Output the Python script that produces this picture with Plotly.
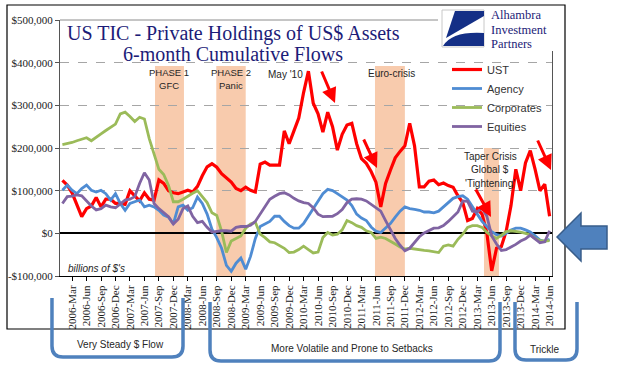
import plotly.graph_objects as go

# ---------------- data ----------------
MONTHS = ["Jan", "Feb", "Mar", "Apr", "May", "Jun", "Jul", "Aug", "Sep", "Oct", "Nov", "Dec"]
periods = [f"{y}-{m}" for y in range(2006, 2015) for m in MONTHS][:102]   # 2006-Jan .. 2014-Jun
tick_labels = periods[2::3]                                               # 2006-Mar, 2006-Jun, ...

y_tickvals = [-100, 0, 100, 200, 300, 400, 500]
y_ticktext = ["-$100,000", "$0", "$100,000", "$200,000", "$300,000", "$400,000", "$500,000"]

# values in $ thousands of millions (axis shows them as $xxx,000)
ust = [124, 113, 95, 66, 39, 58, 64, 84, 62, 80, 80, 70, 70, 68, 100, 88, 76, 95, 80, 78,
       125, 117, 100, 95, 93, 97, 101, 97, 110, 135, 156, 163, 155, 140, 130, 120, 105, 100, 108, 101,
       97, 162, 167, 160, 160, 160, 240, 210, 240, 270, 330, 380, 305, 280, 237, 284, 250, 195, 232, 254,
       258, 210, 175, 164, 145, 120, 62, 117, 148, 177, 192, 205, 258, 205, 109, 109, 122, 125, 114, 118,
       112, 108, 88, 72, 30, 35, 58, 45, 0, -88, -35, -31, 5, 65, 150, 100, 165, 194, 150, 100,
       115, 40]
agency = [101, 113, 101, 93, 105, 113, 101, 97, 101, 93, 78, 93, 70, 54, 70, 74, 78, 62, 66, 62,
          54, 43, 38, 22, 62, 66, 54, 60, 85, 70, 45, 10, -10, -35, -75, -89, -70, -58, -84, -54,
          -12, 16, 23, 28, 40, 40, 28, 18, 12, 12, 23, 40, 60, 75, 93, 103, 100, 93, 85, 78,
          65, 45, 36, 30, 15, 5, 2, 12, 23, 38, 52, 62, 58, 56, 54, 50, 50, 48, 52, 62,
          72, 82, 86, 88, 80, 64, 45, 28, 16, 4, -3, -6, 0, 8, 12, 12, 8, 3, -6, -16,
          -19, -14]
corporates = [208, 210, 213, 217, 220, 224, 217, 226, 233, 241, 249, 256, 280, 284, 274, 262, 272, 268, 222, 185,
              150, 138, 112, 74, 74, 80, 88, 94, 100, 85, 72, 48, 42, 5, -45, -18, -12, -6, 12, 22,
              26, -2, -10, -20, -22, -28, -35, -45, -44, -38, -30, -38, -46, -44, -10, 2, -4, -2, 8, 30,
              25, 18, 14, 6, 2, -12, -9, -12, -18, -25, -32, -37, -35, -37, -39, -40, -41, -43, -45, -30,
              -27, -30, -14, -2, 14, 18, 18, 14, 2, -6, -12, -5, 4, 6, 5, 3, 0, -4, -12, -17,
              -18, -17]
equities = [70, 86, 87, 90, 88, 76, 64, 55, 58, 66, 62, 60, 68, 78, 80, 86, 117, 142, 125, 70,
            58, 48, 39, 22, 33, 58, 64, 40, 25, 28, 14, 3, 5, 6, 6, 5, 14, 16, 16, 19,
            28, 45, 65, 80, 87, 93, 95, 90, 82, 76, 72, 70, 60, 45, 39, 40, 40, 46, 56, 72,
            80, 81, 80, 76, 68, 62, 52, 30, 10, -12, -28, -41, -35, -22, -8, 1, 6, 12, 13, 18,
            28, 38, 50, 76, 75, 52, 50, 60, 40, -6, -25, -40, -38, -32, -26, -18, -13, -4, -12, -22,
            -20, 6]

series_names = ["UST", "Agency", "Corporates", "Equities"]
series_values = [ust, agency, corporates, equities]
series_colors = ["#FF0000", "#4F8CD3", "#9BBB59", "#8064A2"]
series_widths = [3.2, 2.8, 2.8, 2.8]

# crisis bands: (start index, end index, top value)
bands = [(19.2, 25.2, 392), (31.9, 38.0, 392), (64.8, 71.0, 392), (87.4, 90.5, 200)]

# ---------------- geometry helpers (decorations only) ----------------
PL, PR, PT, PB = 60, 552, 20, 276
def px(x):
    return (x - PL) / (PR - PL)
def py(y):
    return (PB - y) / (PB - PT)

fig = go.Figure()
for name, vals, col, w in zip(series_names, series_values, series_colors, series_widths):
    fig.add_trace(go.Scatter(x=periods, y=vals, mode="lines", name=name,
                             line=dict(color=col, width=w), hoverinfo="skip"))

shapes = []
for x0, x1, top in bands:
    shapes.append(dict(type="rect", xref="x", yref="y", x0=x0, x1=x1, y0=-100, y1=top,
                       fillcolor="#F8CBAD", line=dict(width=0), layer="below"))
# plot area top border
shapes.append(dict(type="line", xref="paper", yref="paper", x0=0, x1=1, y0=1, y1=1,
                   line=dict(color="#8C8C8C", width=1)))
# outer chart frame
shapes.append(dict(type="rect", xref="paper", yref="paper", x0=px(7), x1=px(565), y0=py(329), y1=py(5),
                   line=dict(color="#000000", width=1.2)))
# logo white box
shapes.append(dict(type="rect", xref="paper", yref="paper", x0=px(438), x1=px(562), y0=py(51), y1=py(7),
                   fillcolor="white", line=dict(width=0)))
shapes.append(dict(type="rect", xref="paper", yref="paper", x0=px(442), x1=px(484), y0=py(47), y1=py(10),
                   fillcolor="white", line=dict(color="#C8C8C8", width=1)))
def path(points, close=True):
    s = "M " + " L ".join(f"{px(a):.4f},{py(b):.4f}" for a, b in points)
    return s + (" Z" if close else "")
shapes.append(dict(type="path", xref="paper", yref="paper",
                   path=path([(455, 11), (484, 11), (484, 16), (446, 38)]),
                   fillcolor="#142F86", line=dict(width=0)))
shapes.append(dict(type="path", xref="paper", yref="paper",
                   path=f"M {px(443):.4f},{py(46):.4f} Q {px(452):.4f},{py(31):.4f} {px(484):.4f},{py(33):.4f} "
                        f"L {px(484):.4f},{py(46):.4f} Z",
                   fillcolor="#142F86", line=dict(width=0)))
# big blue arrow on the right
shapes.append(dict(type="path", xref="paper", yref="paper",
                   path=path([(557, 237), (581, 213), (581, 226), (607, 226), (607, 249), (581, 249), (581, 261)]),
                   fillcolor="#4F81BD", line=dict(color="#385D8A", width=1.5)))
# bottom brackets
def bracket(x0, x1, ytop, ybot, r=11):
    return (f"M {px(x0):.4f},{py(ytop):.4f} L {px(x0):.4f},{py(ybot - r):.4f} "
            f"Q {px(x0):.4f},{py(ybot):.4f} {px(x0 + r):.4f},{py(ybot):.4f} "
            f"L {px(x1 - r):.4f},{py(ybot):.4f} "
            f"Q {px(x1):.4f},{py(ybot):.4f} {px(x1):.4f},{py(ybot - r):.4f} "
            f"L {px(x1):.4f},{py(ytop):.4f}")
for x0, x1, yt, yb in [(52, 183, 298, 357), (210, 500, 302, 361), (515, 577, 302, 360)]:
    shapes.append(dict(type="path", xref="paper", yref="paper", path=bracket(x0, x1, yt, yb),
                       line=dict(color="#4F81BD", width=3.5)))

ann = []
def text(x, y, s, size, family="Liberation Sans", color="#262626", xanchor="center"):
    ann.append(dict(x=px(x), y=py(y), xref="paper", yref="paper", text=s, showarrow=False,
                    xanchor=xanchor, yanchor="middle",
                    font=dict(size=size, family=family, color=color)))
NAVY = "#1C1C78"
text(233, 33, "US TIC - Private Holdings of US$ Assets", 20, "Liberation Serif", NAVY)
text(233, 54, "6-month Cumulative Flows", 20, "Liberation Serif", NAVY)
text(489, 15, "Alhambra", 12.5, "Liberation Serif", NAVY, "left")
text(489, 29.5, "Investment", 12.5, "Liberation Serif", NAVY, "left")
text(489, 44, "Partners", 12.5, "Liberation Serif", NAVY, "left")
text(169, 72, "PHASE 1", 9.5)
text(169, 85, "GFC", 9.5)
text(231, 72, "PHASE 2", 9.5)
text(231, 85, "Panic", 9.5)
text(285, 74, "May '10", 10)
text(391, 73, "Euro-crisis", 10)
text(490, 156, "Taper Crisis", 10)
text(490, 169, "Global $", 10)
text(490, 183, "'Tightening'", 10)
text(66, 268, "<i>billions of $'s</i>", 10, xanchor="left")
text(120, 344, "Very Steady $ Flow", 10)
text(352, 348, "More Volatile and Prone to Setbacks", 10)
text(545, 349, "Trickle", 10)

def arrow(hx, hy, tx, ty):
    ann.append(dict(x=px(hx), y=py(hy), xref="paper", yref="paper", ax=tx - hx, ay=ty - hy,
                    axref="pixel", ayref="pixel", showarrow=True, arrowhead=2, arrowsize=1,
                    arrowwidth=3, arrowcolor="#FF0000", text="", standoff=0))
arrow(335, 103, 321, 70)
arrow(377, 168, 363, 138)
arrow(491, 217, 475, 188)
arrow(551, 170, 537, 139)

fig.update_layout(
    width=640, height=380,
    margin=dict(l=PL, r=640 - PR, t=PT, b=380 - PB, autoexpand=False),
    paper_bgcolor="white", plot_bgcolor="white",
    font=dict(family="Liberation Serif", size=11, color="#1A1A1A"),
    showlegend=True,
    legend=dict(x=px(447), y=py(55), xanchor="left", yanchor="top", bgcolor="rgba(0,0,0,0)",
                font=dict(family="Liberation Sans", size=11, color="#333333"),
                itemwidth=30, tracegroupgap=0),
    shapes=shapes, annotations=ann,
    xaxis=dict(type="category", range=[-0.5, len(periods) - 0.5], automargin=False,
               tickmode="array", tickvals=tick_labels, ticktext=tick_labels,
               tickangle=-90, tickfont=dict(family="Liberation Serif", size=11, color="#1A1A1A"),
               ticks="outside", ticklen=4, tickcolor="#000000",
               showline=True, linecolor="#000000", linewidth=1, showgrid=False, zeroline=False),
    yaxis=dict(range=[-100, 500], tickmode="array", tickvals=y_tickvals, ticktext=y_ticktext,
               automargin=False,
               tickfont=dict(family="Liberation Serif", size=11, color="#1A1A1A"),
               ticks="outside", ticklen=4, tickcolor="#555555",
               showline=True, linecolor="#555555", linewidth=1, mirror=True,
               showgrid=True, gridcolor="#A6A6A6", griddash="dash", gridwidth=1,
               zeroline=True, zerolinecolor="#000000", zerolinewidth=1.5),
)

fig.write_html("out.html", config={"displayModeBar": False},
               post_script="document.body.style.margin='0';")
